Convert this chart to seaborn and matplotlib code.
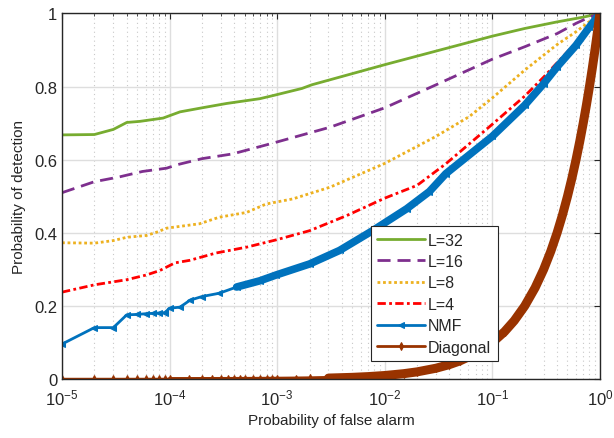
import matplotlib
matplotlib.use('Agg')
import matplotlib.pyplot as plt
import matplotlib.ticker as mticker
import pandas as pd
import seaborn as sns

# (x = probability of false alarm, y = probability of detection)
l32_pfa = [1e-5, 2e-5, 3e-5, 4e-5, 5.3e-5, 8.7e-5, 1.25e-4, 2e-4, 3.4e-4, 6.9e-4, 9e-4, 1.7e-3, 2.1e-3,
           1e-2, 1e-1, 0.2, 0.4, 0.7, 1.0]
l32_pd = [0.668, 0.669, 0.683, 0.702, 0.705, 0.714, 0.731, 0.742, 0.754, 0.767, 0.775, 0.795, 0.805,
          0.860, 0.938, 0.959, 0.977, 0.990, 1.0]

l16_pfa = [1e-5, 2e-5, 3.4e-5, 5.6e-5, 9.4e-5, 1.16e-4, 2e-4, 3.85e-4, 9e-4, 3.1e-3, 1e-2, 3e-2, 1e-1,
           0.2, 0.4, 0.6, 0.8, 1.0]
l16_pd = [0.510, 0.540, 0.553, 0.568, 0.577, 0.586, 0.603, 0.616, 0.645, 0.689, 0.742, 0.805, 0.875,
          0.909, 0.945, 0.973, 0.990, 1.0]

l8_pfa = [1e-5, 2e-5, 3e-5, 4e-5, 6.1e-5, 7.6e-5, 9.4e-5, 1.9e-4, 2.9e-4, 5.2e-4, 7.9e-4, 1.4e-3, 3.1e-3,
          1e-2, 3e-2, 6.1e-2, 1e-1, 0.2, 0.3, 0.4, 0.6, 0.8, 1.0]
l8_pd = [0.373, 0.372, 0.379, 0.388, 0.393, 0.402, 0.413, 0.425, 0.443, 0.456, 0.479, 0.493, 0.525,
         0.590, 0.664, 0.718, 0.769, 0.845, 0.886, 0.915, 0.950, 0.978, 1.0]

l4_pfa = [1e-5, 2e-5, 4e-5, 6.1e-5, 8.1e-5, 1.12e-4, 1.54e-4, 2.7e-4, 5.2e-4, 9.8e-4, 2e-3, 4.4e-3,
          1e-2, 2e-2, 3.7e-2, 1e-1, 0.2, 0.3, 0.4, 0.6, 0.8, 1.0]
l4_pd = [0.238, 0.258, 0.272, 0.285, 0.297, 0.318, 0.325, 0.345, 0.361, 0.381, 0.406, 0.447,
         0.495, 0.530, 0.589, 0.697, 0.774, 0.826, 0.865, 0.920, 0.965, 1.0]

nmf_pfa = [1e-5, 2e-5, 3e-5, 4e-5, 5e-5, 6e-5, 7e-5, 8e-5, 9e-5, 1e-4, 1.25e-4, 1.55e-4, 2e-4, 2.9e-4,
           4.2e-4, 6.9e-4, 9.8e-4, 2e-3, 3.8e-3, 7.7e-3, 1.6e-2, 2.6e-2, 3.7e-2, 1e-1, 0.2, 0.3, 0.4,
           0.6, 0.8, 1.0]
nmf_pd = [0.096, 0.141, 0.141, 0.176, 0.177, 0.179, 0.180, 0.181, 0.182, 0.194, 0.197, 0.216, 0.226, 0.235,
          0.252, 0.269, 0.285, 0.315, 0.352, 0.406, 0.466, 0.513, 0.562, 0.664, 0.749, 0.808, 0.854,
          0.913, 0.963, 1.0]

diag_pfa = [1e-5, 2e-5, 3e-5, 4e-5, 5e-5, 6e-5, 7e-5, 8e-5, 9e-5,
            1e-4, 1.5e-4, 2e-4, 2.5e-4, 3e-4, 3.5e-4, 4e-4, 4.5e-4, 5e-4, 6e-4, 7e-4, 8e-4, 9e-4,
            1e-3, 1.5e-3, 2e-3, 3e-3, 5e-3, 7e-3, 1e-2, 1.5e-2, 2e-2, 3e-2, 4e-2, 5e-2, 7e-2,
            0.1, 0.13, 0.16, 0.2, 0.25, 0.3, 0.35, 0.4, 0.45, 0.5, 0.55, 0.6, 0.65, 0.7,
            0.75, 0.8, 0.85, 0.9, 0.95, 1.0]
diag_pd = list(diag_pfa)  # chance line: Pd = Pfa

labels = ['L=32', 'L=16', 'L=8', 'L=4', 'NMF', 'Diagonal']
y_ticks = [0, 0.2, 0.4, 0.6, 0.8, 1.0]
y_tick_labels = ['0', '0.2', '0.4', '0.6', '0.8', '1']

GREEN = '#77AC30'
PURPLE = '#7E2F8E'
YELLOW = '#EDB120'
RED = '#FF0000'
BLUE = '#0072BD'
BROWN = '#993300'


def show_chart():
    sns.set_style('whitegrid')
    plt.rcParams['font.family'] = ['Liberation Sans', 'DejaVu Sans']
    plt.rcParams['axes.unicode_minus'] = False
    plt.rcParams['mathtext.fontset'] = 'custom'
    plt.rcParams['mathtext.rm'] = 'Liberation Sans'
    plt.rcParams['mathtext.it'] = 'Liberation Sans'

    fig = plt.figure(figsize=(6.14, 4.39), dpi=100)
    ax = fig.add_axes([0.101, 0.134, 0.876, 0.833])

    handles = []

    def draw(pfa, pd_, **kw):
        df = pd.DataFrame({'pfa': pfa, 'pd': pd_})
        sns.lineplot(data=df, x='pfa', y='pd', ax=ax, estimator=None, sort=False, **kw)
        return ax.lines[-1]

    handles.append(draw(l32_pfa, l32_pd, color=GREEN, linewidth=2))
    handles.append(draw(l16_pfa, l16_pd, color=PURPLE, linewidth=2, linestyle=(0, (4.7, 2.5))))
    handles.append(draw(l8_pfa, l8_pd, color=YELLOW, linewidth=2, linestyle=(0, (1, 1))))
    handles.append(draw(l4_pfa, l4_pd, color=RED, linewidth=2, linestyle=(0, (3, 1.2, 1, 1.2))))

    # NMF: thin line with markers, dense part drawn thick like the overlapping markers
    nmf_thick = [(x, y) for x, y in zip(nmf_pfa, nmf_pd) if x >= 4.2e-4]
    draw([p[0] for p in nmf_thick], [p[1] for p in nmf_thick], color=BLUE, linewidth=5.5)
    handles.append(draw(nmf_pfa, nmf_pd, color=BLUE, linewidth=2, marker='<', markersize=4,
                        markeredgecolor=BLUE))

    diag_mid = [(x, y) for x, y in zip(diag_pfa, diag_pd) if 1e-4 <= x <= 3e-3]
    draw([p[0] for p in diag_mid], [p[1] for p in diag_mid], color=BROWN, linewidth=3)
    diag_thick = [(x, y) for x, y in zip(diag_pfa, diag_pd) if x >= 3e-3]
    draw([p[0] for p in diag_thick], [p[1] for p in diag_thick], color=BROWN, linewidth=6.5)
    handles.append(draw(diag_pfa, diag_pd, color=BROWN, linewidth=2, marker='d', markersize=4,
                        markeredgecolor=BROWN))

    ax.set_xscale('log')
    ax.set_xlim(1e-5, 1)
    ax.set_ylim(0, 1)
    ax.set_yticks(y_ticks)
    ax.set_yticklabels(y_tick_labels)
    ax.xaxis.set_major_locator(mticker.LogLocator(base=10, numticks=10))
    ax.xaxis.set_minor_locator(mticker.LogLocator(base=10, subs=range(2, 10), numticks=50))
    ax.xaxis.set_minor_formatter(mticker.NullFormatter())

    ax.grid(which='major', color='#dedede', linewidth=1, linestyle='-')
    ax.grid(which='minor', axis='x', color='#c8c8c8', linewidth=0.8, linestyle=(0, (1, 3)))
    ax.set_axisbelow(True)
    for s in ax.spines.values():
        s.set_color('#262626')
        s.set_linewidth(1)
    ax.tick_params(which='both', direction='in', top=True, right=True, colors='#262626',
                   labelsize=12, labelcolor='#262626')
    ax.tick_params(which='major', length=4)
    ax.tick_params(which='minor', length=2)
    ax.tick_params(axis='x', pad=6)

    ax.set_xlabel('Probability of false alarm', fontsize=11, color='#262626', labelpad=4)
    ax.set_ylabel('Probability of detection', fontsize=11, color='#262626', labelpad=6)

    leg = ax.legend(handles, labels, loc='lower left', bbox_to_anchor=(0.574, 0.05),
                    fontsize=11.5, handlelength=3.0, labelspacing=0.4, borderpad=0.4,
                    handletextpad=0.2, frameon=True, fancybox=False, framealpha=1,
                    borderaxespad=0)
    leg.get_frame().set_edgecolor('#262626')
    leg.get_frame().set_linewidth(0.8)

    fig.savefig('out.png', dpi=100)


if __name__ == '__main__':
    show_chart()
